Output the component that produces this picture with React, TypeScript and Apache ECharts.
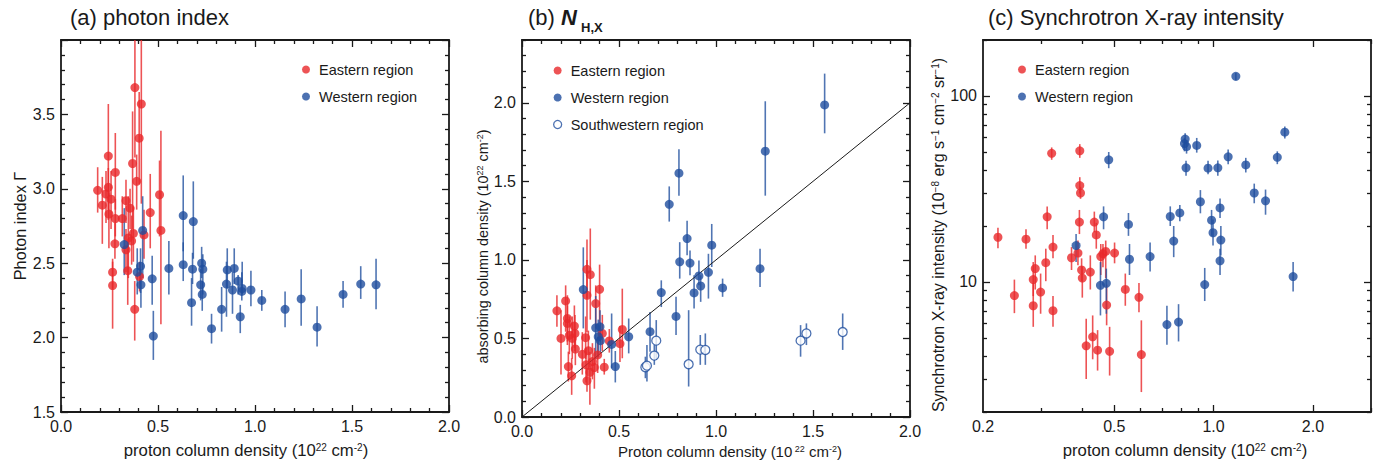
import React, { useEffect, useRef } from 'react';
import * as echarts from 'echarts';

const FONT = "'Liberation Sans', Arial, Helvetica, sans-serif";
const INK = '#1a1a1a';
const RED = '#e8282b';
const BLUE = '#1f4e9e';
const RED_BAR = 'rgba(232,40,43,0.8)';
const BLUE_BAR = 'rgba(31,78,158,0.78)';

// ---------- Panel (a): photon index ----------
const aEastX = [0.189, 0.213, 0.232, 0.244, 0.244, 0.247, 0.258, 0.266, 0.266, 0.278, 0.28, 0.28, 0.316, 0.335, 0.335, 0.344, 0.347, 0.356, 0.364, 0.369, 0.373, 0.381, 0.38, 0.39, 0.403, 0.405, 0.414, 0.428, 0.46, 0.508, 0.515];
const aEastY = [2.99, 2.89, 2.965, 3.22, 3.01, 2.83, 2.93, 2.44, 2.35, 2.63, 3.11, 2.8, 2.8, 2.92, 2.59, 2.45, 2.67, 2.87, 2.65, 3.17, 2.7, 3.68, 2.19, 3.05, 3.34, 2.41, 3.57, 2.69, 2.84, 2.96, 2.72];
const aEastLo = [2.84, 2.63, 2.77, 2.86, 2.79, 2.6, 2.73, 2.33, 2.06, 2.53, 2.86, 2.68, 2.68, 2.77, 2.44, 2.22, 2.4, 2.73, 2.49, 2.73, 2.51, 3.21, 1.98, 2.86, 3.03, 2.31, 2.9, 2.53, 2.6, 2.68, 2.09];
const aEastHi = [3.145, 3.08, 3.12, 3.57, 3.14, 2.97, 3.12, 2.53, 2.51, 2.77, 3.375, 2.93, 2.95, 3.06, 2.73, 2.64, 2.95, 3.0, 2.82, 3.52, 2.88, 4.2, 2.38, 3.23, 3.65, 2.51, 4.3, 2.86, 3.1, 3.19, 3.39];

const aWestX = [0.326, 0.393, 0.41, 0.412, 0.421, 0.47, 0.476, 0.556, 0.63, 0.682, 0.63, 0.678, 0.673, 0.725, 0.731, 0.72, 0.728, 0.776, 0.828, 0.857, 0.853, 0.893, 0.884, 0.913, 0.934, 0.932, 0.924, 0.979, 1.035, 1.155, 1.238, 1.32, 1.454, 1.545, 1.624];
const aWestY = [2.625, 2.44, 2.48, 2.355, 2.72, 2.395, 2.01, 2.465, 2.82, 2.78, 2.49, 2.46, 2.235, 2.5, 2.46, 2.355, 2.29, 2.06, 2.19, 2.455, 2.36, 2.465, 2.32, 2.38, 2.33, 2.31, 2.14, 2.32, 2.25, 2.19, 2.26, 2.07, 2.29, 2.36, 2.355];
const aWestLo = [2.42, 2.29, 2.3, 2.2, 2.4, 2.22, 1.85, 2.29, 2.58, 2.53, 2.38, 2.36, 2.08, 2.4, 2.29, 2.25, 2.18, 1.96, 2.04, 2.33, 2.14, 2.36, 2.16, 2.29, 2.29, 2.25, 2.03, 2.21, 2.18, 2.07, 2.08, 1.94, 2.2, 2.26, 2.19];
const aWestHi = [2.87, 2.6, 2.6, 2.46, 2.95, 2.55, 2.18, 2.65, 3.09, 3.05, 2.64, 2.57, 2.4, 2.61, 2.56, 2.46, 2.38, 2.16, 2.34, 2.6, 2.51, 2.6, 2.44, 2.42, 2.51, 2.44, 2.22, 2.45, 2.32, 2.31, 2.46, 2.21, 2.38, 2.48, 2.53];

// ---------- Panel (b): N_H,X ----------
const bEastX = [0.18, 0.201, 0.225, 0.234, 0.234, 0.239, 0.244, 0.256, 0.259, 0.27, 0.273, 0.275, 0.311, 0.328, 0.335, 0.352, 0.335, 0.33, 0.335, 0.35, 0.342, 0.363, 0.373, 0.38, 0.4, 0.39, 0.414, 0.424, 0.45, 0.505, 0.517];
const bEastY = [0.676, 0.5, 0.739, 0.627, 0.596, 0.321, 0.52, 0.262, 0.5, 0.579, 0.532, 0.433, 0.399, 0.505, 0.94, 0.906, 0.775, 0.332, 0.23, 0.285, 0.422, 0.353, 0.315, 0.722, 0.813, 0.395, 0.532, 0.317, 0.484, 0.467, 0.557];
const bEastLo = [0.574, 0.27, 0.543, 0.458, 0.48, 0.226, 0.4, 0.141, 0.37, 0.44, 0.42, 0.33, 0.27, 0.37, 0.754, 0.62, 0.54, 0.22, 0.16, 0.078, 0.3, 0.24, 0.18, 0.564, 0.6, 0.28, 0.42, 0.27, 0.41, 0.35, 0.374];
const bEastHi = [0.775, 0.68, 0.838, 0.775, 0.71, 0.416, 0.64, 0.374, 0.64, 0.71, 0.65, 0.56, 0.54, 0.64, 1.13, 1.2, 1.0, 0.44, 0.31, 0.416, 0.55, 0.47, 0.44, 0.838, 0.97, 0.51, 0.65, 0.37, 0.56, 0.58, 0.817];

const bWestX = [0.316, 0.38, 0.402, 0.393, 0.404, 0.462, 0.481, 0.55, 0.66, 0.718, 0.759, 0.794, 0.809, 0.813, 0.851, 0.866, 0.887, 0.912, 0.921, 0.961, 0.978, 1.034, 1.227, 1.254, 1.56];
const bWestY = [0.811, 0.568, 0.574, 0.511, 0.486, 0.462, 0.321, 0.511, 0.543, 0.792, 1.354, 0.64, 1.552, 0.988, 1.136, 0.98, 0.79, 0.898, 0.834, 0.921, 1.094, 0.822, 0.944, 1.692, 1.987];
const bWestLo = [0.564, 0.37, 0.48, 0.38, 0.4, 0.31, 0.22, 0.405, 0.416, 0.7, 1.244, 0.522, 1.409, 0.881, 1.029, 0.902, 0.69, 0.838, 0.733, 0.754, 0.955, 0.765, 0.828, 1.409, 1.806];
const bWestHi = [1.08, 0.77, 0.68, 0.62, 0.6, 0.659, 0.42, 0.627, 0.669, 0.87, 1.468, 0.765, 1.704, 1.113, 1.25, 1.06, 0.902, 0.997, 0.902, 1.039, 1.229, 0.881, 1.071, 2.01, 2.186];

const bSouthX = [0.636, 0.644, 0.682, 0.692, 0.859, 0.919, 0.945, 1.436, 1.466, 1.653];
const bSouthY = [0.317, 0.327, 0.391, 0.486, 0.336, 0.429, 0.427, 0.486, 0.532, 0.541];
const bSouthLo = [0.247, 0.226, 0.332, 0.363, 0.194, 0.332, 0.332, 0.384, 0.458, 0.427];
const bSouthHi = [0.384, 0.458, 0.458, 0.617, 0.68, 0.522, 0.532, 0.585, 0.596, 0.659];

const bLineX = [0, 2];
const bLineY = [0, 2];

// ---------- Panel (c): synchrotron X-ray intensity ----------
const cEastX = [0.222, 0.249, 0.27, 0.284, 0.284, 0.288, 0.299, 0.31, 0.313, 0.323, 0.326, 0.326, 0.371, 0.388, 0.393, 0.393, 0.395, 0.392, 0.398, 0.4, 0.411, 0.423, 0.43, 0.435, 0.441, 0.445, 0.455, 0.462, 0.471, 0.474, 0.484, 0.501, 0.54, 0.594, 0.604];
const cEastY = [17.4, 8.45, 17.0, 10.3, 7.45, 11.8, 8.83, 12.7, 22.4, 49.2, 15.4, 7.01, 13.5, 14.3, 50.7, 33.0, 30.1, 21.0, 11.6, 10.5, 4.54, 11.3, 5.07, 21.0, 17.9, 4.3, 13.7, 14.2, 14.6, 7.51, 4.24, 14.3, 9.12, 8.27, 4.07];
const cEastLo = [15.2, 6.8, 15.1, 8.4, 5.74, 9.11, 6.75, 10.1, 19.2, 45.4, 13.4, 5.74, 11.6, 12.3, 46.5, 29.9, 28.0, 18.1, 10.1, 8.24, 3.01, 9.11, 3.84, 18.5, 15.1, 3.34, 10.9, 12.0, 10.5, 5.85, 3.14, 12.6, 7.45, 6.87, 2.56];
const cEastHi = [19.6, 10.3, 19.2, 12.8, 9.88, 13.9, 11.1, 15.1, 25.5, 52.9, 17.9, 8.41, 15.4, 16.7, 55.1, 36.6, 32.5, 24.4, 13.4, 12.1, 6.34, 13.9, 6.61, 23.9, 20.8, 5.51, 16.0, 16.0, 16.7, 9.68, 5.74, 16.3, 11.1, 9.88, 6.22];

const cWestX = [0.383, 0.454, 0.473, 0.464, 0.481, 0.552, 0.556, 0.642, 0.722, 0.739, 0.757, 0.783, 0.79, 0.816, 0.82, 0.828, 0.825, 0.889, 0.912, 0.94, 0.962, 0.986, 0.996, 1.03, 1.046, 1.052, 1.046, 1.107, 1.168, 1.252, 1.328, 1.437, 1.56, 1.644, 1.742];
const cWestY = [15.7, 9.6, 9.84, 22.4, 45.4, 20.4, 13.25, 13.7, 5.9, 22.5, 16.6, 6.09, 23.5, 55.5, 58.7, 53.4, 41.1, 54.2, 27.0, 9.68, 40.9, 21.5, 18.4, 41.1, 25.0, 16.8, 13.0, 47.1, 127.5, 42.6, 30.1, 27.3, 46.8, 63.9, 10.7];
const cWestLo = [12.8, 6.61, 6.75, 19.2, 40.9, 17.7, 10.9, 11.4, 4.6, 20.0, 13.6, 4.79, 21.2, 50.4, 55.0, 49.0, 37.3, 49.6, 23.4, 7.9, 38.0, 17.7, 15.7, 37.3, 22.1, 13.9, 10.9, 43.0, 121, 38.8, 26.5, 23.0, 43.0, 59.0, 8.9];
const cWestHi = [18.1, 12.8, 11.8, 25.5, 50.0, 23.5, 16.0, 16.3, 7.45, 25.5, 20.0, 7.6, 25.9, 59.5, 63.0, 58.0, 44.8, 59.5, 31.2, 11.9, 44.8, 24.4, 21.7, 45.0, 28.1, 20.0, 15.1, 51.5, 133, 46.5, 33.8, 31.4, 50.4, 68.5, 12.8];

// ---------- ticks ----------
const linMajorX = [0, 0.5, 1, 1.5, 2];
const aYMajor = [1.5, 2, 2.5, 3, 3.5, 4];
const aYLabels = [1.5, 2, 2.5, 3, 3.5];
const bYMajor = [0, 0.5, 1, 1.5, 2];
const cXLabels = [0.2, 0.5, 1, 2];
const cXMajor = [0.5, 1, 2];
const cXMinor = [0.3, 0.4, 0.6, 0.7, 0.8, 0.9, 3];
const cYLabels = [10, 100];
const cYMajor = [10, 100];
const cYMinor = [2, 3, 4, 5, 6, 7, 8, 9, 20, 30, 40, 50, 60, 70, 80, 90, 200];

function steps(a: number, b: number, s: number, skip: number[]) {
  const out: number[] = [];
  for (let i = Math.round(a / s); i <= Math.round(b / s); i++) {
    const v = +(i * s).toFixed(4);
    if (!skip.some((k) => Math.abs(k - v) < 1e-6)) out.push(v);
  }
  return out;
}

const L = (v: number) => Math.log10(v);

const lineStyle = { color: INK, width: 1.3 };
const axisLineStyle = { color: INK, width: 1.8 };

function supRich(size: number) {
  return {
    sup: { fontSize: Math.round(size * 0.62), verticalAlign: 'top', fontFamily: FONT, color: INK, lineHeight: size },
  };
}

function axisSet(
  dim: 'x' | 'y',
  grid: number,
  min: number,
  max: number,
  majors: number[],
  minors: number[],
  labels: number[],
  fmt: (v: number) => string,
  name: string,
  nameGap: number,
  nameSize: number,
  namePad: number[]
) {
  const base: any = {
    type: 'value',
    gridIndex: grid,
    min,
    max,
    splitLine: { show: false },
    axisLine: { show: true, onZero: false, lineStyle: axisLineStyle },
  };
  const posA = dim === 'x' ? 'bottom' : 'left';
  const posB = dim === 'x' ? 'top' : 'right';
  const noLine = { show: false, onZero: false };
  return [
    {
      ...base,
      position: posA,
      axisTick: { show: true, inside: true, length: 7, customValues: majors, lineStyle },
      axisLabel: {
        show: true,
        customValues: labels,
        formatter: fmt,
        margin: 6,
        fontSize: 16,
        color: INK,
        fontFamily: FONT,
      },
      name,
      nameLocation: 'middle',
      nameGap,
      nameTextStyle: { fontSize: nameSize, color: INK, fontFamily: FONT, padding: namePad, rich: supRich(nameSize) },
    },
    {
      ...base,
      position: posA,
      axisLine: noLine,
      axisTick: { show: true, inside: true, length: 4, customValues: minors, lineStyle },
      axisLabel: { show: false },
    },
    {
      ...base,
      position: posB,
      axisTick: { show: true, inside: true, length: 7, customValues: majors, lineStyle },
      axisLabel: { show: false },
    },
    {
      ...base,
      position: posB,
      axisLine: noLine,
      axisTick: { show: true, inside: true, length: 4, customValues: minors, lineStyle },
      axisLabel: { show: false },
    },
  ];
}

function errSeries(grid: number, xs: number[], lo: number[], hi: number[], color: string, yMin: number, yMax: number, tf: (v: number) => number) {
  return {
    type: 'custom',
    xAxisIndex: grid * 4,
    yAxisIndex: grid * 4,
    z: 1,
    clip: true,
    silent: true,
    encode: { x: 0, y: [1, 2] },
    data: xs.map((x, i) => [tf(x), tf(lo[i]), tf(hi[i])]),
    renderItem: (params: any, api: any) => {
      const x = api.value(0);
      const a = Math.max(yMin, Math.min(yMax, api.value(1)));
      const b = Math.max(yMin, Math.min(yMax, api.value(2)));
      const p1 = api.coord([x, a]);
      const p2 = api.coord([x, b]);
      return {
        type: 'line',
        shape: { x1: p1[0], y1: p1[1], x2: p2[0], y2: p2[1] },
        style: { stroke: color, lineWidth: 1.6 },
      };
    },
  };
}

function ptSeries(grid: number, name: string, xs: number[], ys: number[], style: any, tf: (v: number) => number) {
  return {
    type: 'scatter',
    name,
    xAxisIndex: grid * 4,
    yAxisIndex: grid * 4,
    z: 3,
    symbol: 'circle',
    symbolSize: 9,
    silent: true,
    itemStyle: style,
    data: xs.map((x, i) => [tf(x), tf(ys[i])]),
  };
}

const id = (v: number) => v;
const f1 = (v: number) => v.toFixed(1);

export default function App() {
  const ref = useRef<HTMLDivElement>(null);
  useEffect(() => {
    if (!ref.current) return;
    const chart = echarts.init(ref.current, undefined, { renderer: 'svg' });
    const xNameA = 'proton column density (10{sup|22} cm{sup|-2})';
    const xNameB = 'Proton column density (10{sup| 22} cm{sup|-2})';
    const yNameB = 'absorbing column density (10{sup|22} cm{sup|-2})';
    const yNameC = 'Synchrotron X-ray intensity (10{sup|\u22128} erg s{sup|\u22121} cm{sup|\u22122} sr{sup|\u22121})';

    const xAxes = [
      ...axisSet('x', 0, 0, 2, linMajorX, steps(0, 2, 0.1, linMajorX), linMajorX, f1, xNameA, 30, 16.7, [0, 18, 0, 0]),
      ...axisSet('x', 1, 0, 2, linMajorX, steps(0, 2, 0.1, linMajorX), linMajorX, f1, xNameB, 27, 15, [0, 0, 0, 28]),
      ...axisSet('x', 2, L(0.2), L(3), cXMajor.map(L), cXMinor.map(L), cXLabels.map(L), (v) => Math.pow(10, v).toFixed(1), xNameA, 30, 16.7, [0, 0, 0, 16]),
    ];
    const yAxes = [
      ...axisSet('y', 0, 1.5, 4, aYMajor, steps(1.5, 4, 0.1, aYMajor), aYLabels, f1, 'Photon index \u0393', 33, 16.3, [0, 0, 0, 0]),
      ...axisSet('y', 1, 0, 2.4, bYMajor, steps(0, 2.4, 0.1, bYMajor), bYMajor, f1, yNameB, 30, 14.4, [0, 36, 0, 0]),
      ...axisSet('y', 2, L(2), L(200), cYMajor.map(L), cYMinor.map(L), cYLabels.map(L), (v) => String(Math.round(Math.pow(10, v))), yNameC, 34, 16, [0, 18, 0, 0]),
    ];

    const hollow = { color: '#ffffff', borderColor: BLUE, borderWidth: 1.3 };
    const legendText = { fontSize: 14.5, color: INK, fontFamily: FONT };
    const legendBase = {
      orient: 'vertical',
      itemWidth: 16,
      itemHeight: 8,
      itemGap: 12,
      icon: 'circle',
      padding: 0,
      selectedMode: false,
      textStyle: legendText,
    };

    chart.setOption({
      animation: false,
      backgroundColor: '#ffffff',
      textStyle: { fontFamily: FONT },
      title: [
        { left: 70, top: 6, padding: 0, text: '(a) photon index', textStyle: { fontSize: 22, fontWeight: 'normal', color: INK, fontFamily: FONT } },
        {
          left: 528,
          top: 6,
          padding: 0,
          text: '(b) {n|N}',
          textStyle: {
            fontSize: 22,
            fontWeight: 'normal',
            color: INK,
            fontFamily: FONT,
            rich: { n: { fontSize: 22, fontWeight: 'bold', fontStyle: 'italic', color: INK, fontFamily: FONT } },
          },
        },
        { left: 581, top: 21, padding: 0, text: 'H,X', textStyle: { fontSize: 13, fontWeight: 'bold', color: INK, fontFamily: FONT } },
        { left: 988, top: 6, padding: 0, text: '(c) Synchrotron X-ray intensity', textStyle: { fontSize: 22, fontWeight: 'normal', color: INK, fontFamily: FONT } },
      ],
      legend: [
        { ...legendBase, left: 302, top: 62, data: ['Eastern region', 'Western region'] },
        {
          ...legendBase,
          left: 553,
          top: 63,
          data: [
            'Eastern region',
            'Western region',
            { name: 'Southwestern region', itemStyle: hollow },
          ],
        },
        { ...legendBase, left: 1018, top: 62, data: ['Eastern region', 'Western region'] },
      ],
      grid: [
        { left: 61, top: 40, width: 388, height: 380 },
        { left: 522, top: 40, width: 388, height: 379 },
        { left: 983, top: 40, width: 388, height: 379 },
      ],
      xAxis: xAxes,
      yAxis: yAxes,
      series: [
        errSeries(0, aEastX, aEastLo, aEastHi, RED_BAR, 1.5, 4, id),
        errSeries(0, aWestX, aWestLo, aWestHi, BLUE_BAR, 1.5, 4, id),
        ptSeries(0, 'Eastern region', aEastX, aEastY, { color: RED }, id),
        ptSeries(0, 'Western region', aWestX, aWestY, { color: BLUE }, id),

        errSeries(1, bEastX, bEastLo, bEastHi, RED_BAR, 0, 2.4, id),
        errSeries(1, bWestX, bWestLo, bWestHi, BLUE_BAR, 0, 2.4, id),
        errSeries(1, bSouthX, bSouthLo, bSouthHi, BLUE_BAR, 0, 2.4, id),
        {
          type: 'line',
          xAxisIndex: 4,
          yAxisIndex: 4,
          z: 2,
          silent: true,
          symbol: 'none',
          lineStyle: { color: INK, width: 1 },
          data: bLineX.map((x, i) => [x, bLineY[i]]),
        },
        ptSeries(1, 'Eastern region', bEastX, bEastY, { color: RED }, id),
        ptSeries(1, 'Western region', bWestX, bWestY, { color: BLUE }, id),
        ptSeries(1, 'Southwestern region', bSouthX, bSouthY, hollow, id),

        errSeries(2, cEastX, cEastLo, cEastHi, RED_BAR, L(2), L(200), L),
        errSeries(2, cWestX, cWestLo, cWestHi, BLUE_BAR, L(2), L(200), L),
        ptSeries(2, 'Eastern region', cEastX, cEastY, { color: RED }, L),
        ptSeries(2, 'Western region', cWestX, cWestY, { color: BLUE }, L),
      ],
    });
    return () => chart.dispose();
  }, []);
  return <div ref={ref} style={{ position: 'fixed', left: 0, top: 0, width: 1379, height: 464, background: '#fff' }} />;
}
